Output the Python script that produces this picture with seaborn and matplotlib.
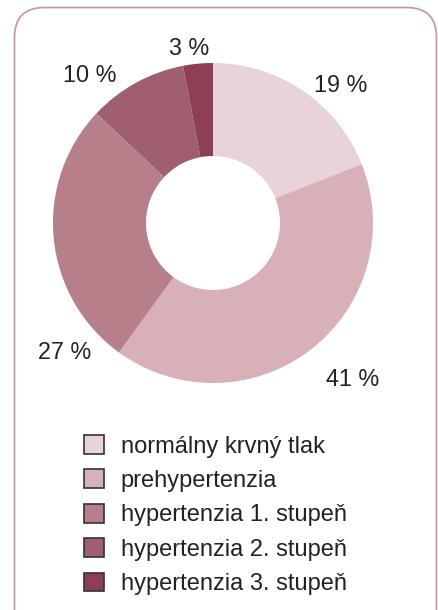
import matplotlib
matplotlib.use("Agg")
import matplotlib.pyplot as plt
import seaborn as sns
from matplotlib.patches import Patch, FancyBboxPatch
from matplotlib.transforms import IdentityTransform
import numpy as np

categories = ["normálny krvný tlak", "prehypertenzia", "hypertenzia 1. stupeň",
              "hypertenzia 2. stupeň", "hypertenzia 3. stupeň"]
values = [19, 41, 27, 10, 3]
value_labels = ["19 %", "41 %", "27 %", "10 %", "3 %"]
colors = ["#e8d4d8", "#d7b0b8", "#b67f89", "#a05f6e", "#8c3f55"]

sns.set_theme(style="white")
plt.rcParams['font.family'] = ['Liberation Sans', 'DejaVu Sans']

W, H = 438, 610
fig = plt.figure(figsize=(W / 100, H / 100), dpi=100)

# frame
frame = FancyBboxPatch((14.5, -40), 422, 602.5 + 40 - 0,
                       boxstyle="round,pad=0,rounding_size=30",
                       transform=IdentityTransform(), fill=False,
                       edgecolor="#c99aa5", linewidth=1.3)
fig.patches.append(frame)

cx, cy, R = 213, 223, 160
ax = fig.add_axes([(cx - R) / W, 1 - (cy + R) / H, 2 * R / W, 2 * R / H])
ax.pie(values, colors=colors, startangle=90, counterclock=False, radius=1.0,
       wedgeprops=dict(width=1 - 67 / 160, linewidth=0))
ax.set_xlim(-1, 1)
ax.set_ylim(-1, 1)
ax.set_aspect("equal")
ax.axis("off")

label_pos = [(0.80, 0.86), (0.875, -0.98), (-0.925, -0.81), (-0.77, 0.92), (-0.15, 1.09)]
for (x, y), t in zip(label_pos, value_labels):
    ax.text(x, y, t, ha="center", va="center", fontsize=16.8, color="#222222", clip_on=False)

handles = [Patch(facecolor=c, edgecolor="#333333", linewidth=1.2) for c in colors]
fig.legend(handles, categories, loc="upper left", bbox_to_anchor=(84 / W, 1 - 435 / H),
           frameon=False, fontsize=17, handlelength=0.85, handleheight=0.85,
           handletextpad=0.7, labelspacing=0.5, borderpad=0, borderaxespad=0,
           labelcolor="#222222")

fig.savefig("out.png", dpi=100)
